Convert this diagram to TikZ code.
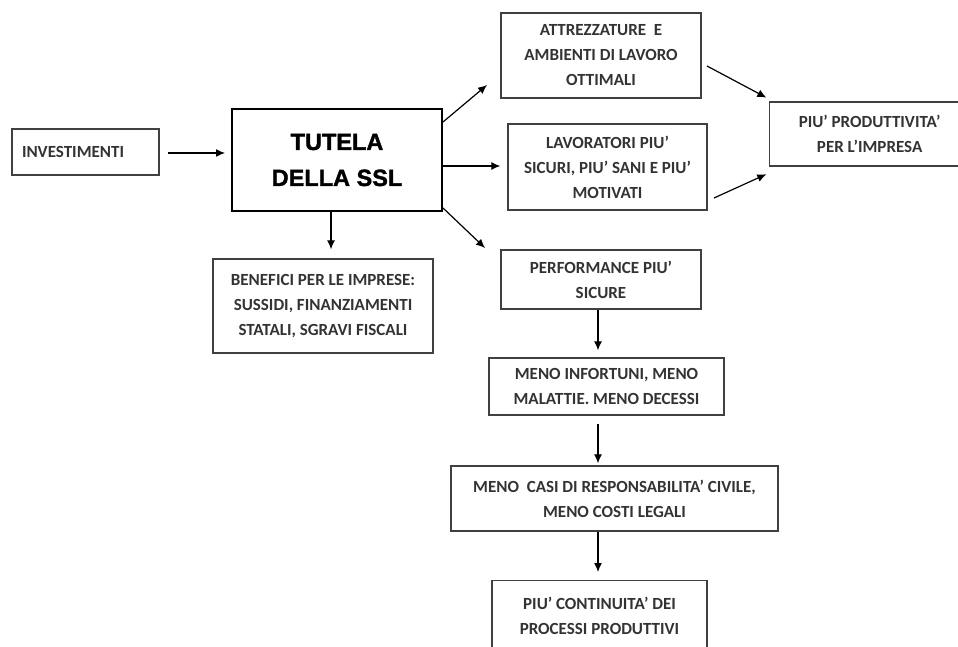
\documentclass[tikz,border=0pt]{standalone}
\usepackage{fontspec}
\setmainfont{Carlito}
\newfontfamily\headfont[BoldFeatures={FakeBold=1.5}]{Liberation Sans}
\usetikzlibrary{arrows.meta}
\begin{document}
\begin{tikzpicture}[x=1pt,y=-1pt,
    box/.style={draw=black!75,line width=1.3pt,align=center,inner sep=0pt,
      text=black!80,font=\fontsize{17}{25}\selectfont\bfseries},
    arr/.style={line width=1.2pt,-{Latex[length=9pt,width=8pt]}}]
  \useasboundingbox (0,0) rectangle (958,647);
  \node[box,minimum width=147pt,minimum height=46pt,text width=127pt,align=left] (invest) at (85.5,152) {INVESTIMENTI};
  \node[box,draw=black,line width=2pt,minimum width=210pt,minimum height=102pt,text=black,
    font=\headfont\fontsize{23.5}{36}\selectfont\bfseries] (tutela) at (337,160) {TUTELA\\DELLA SSL};
  \node[box,minimum width=220pt,minimum height=94pt] (benefici) at (323,306) {BENEFICI PER LE IMPRESE:\\SUSSIDI, FINANZIAMENTI\\STATALI, SGRAVI FISCALI};
  \node[box,minimum width=200pt,minimum height=85pt] (attrezz) at (601,55.5) {ATTREZZATURE\ \ E\\AMBIENTI DI LAVORO\\OTTIMALI};
  \node[box,minimum width=199pt,minimum height=86pt] (lavor) at (607.5,167) {LAVORATORI PIU'\\SICURI, PIU' SANI E PIU'\\MOTIVATI};
  \node[box,minimum width=200pt,minimum height=64pt,anchor=west] (produtt) at (769,134) {PIU' PRODUTTIVITA'\\PER L'IMPRESA};
  \node[box,minimum width=200pt,minimum height=59pt] (perform) at (601,279.5) {PERFORMANCE PIU'\\SICURE};
  \node[box,minimum width=235pt,minimum height=57pt] (infort) at (606.5,386.5) {MENO INFORTUNI, MENO\\MALATTIE. MENO DECESSI};
  \node[box,minimum width=327pt,minimum height=65pt] (casi) at (614.5,498.5) {MENO\ \ CASI DI RESPONSABILITA' CIVILE,\\MENO COSTI LEGALI};
  \node[box,minimum width=215pt,minimum height=70pt,anchor=north] (contin) at (599.5,580) {PIU' CONTINUITA' DEI\\PROCESSI PRODUTTIVI};
  % frecce
  \draw[arr,shorten <=8pt,shorten >=6pt] (invest.east |- 0,153) -- (tutela.west |- 0,153);
  \coordinate (p1) at (487,85);
  \coordinate (p3) at (485,248);
  \draw[arr] (tutela.east |- 0,122) -- (p1);
  \draw[arr,shorten >=7pt] (tutela.east |- 0,166) -- (lavor.west |- 0,166);
  \draw[arr] (tutela.east |- 0,208) -- (p3);
  \draw[arr,shorten >=9pt] (tutela.south -| 331,0) -- (benefici.north -| 331,0);
  \coordinate (q1) at (707,66);
  \coordinate (q2) at (714,198);
  \draw[arr,shorten >=3pt] (q1) -- (produtt.west |- 0,99);
  \draw[arr,shorten >=3pt] (q2) -- (produtt.west |- 0,173);
  \draw[arr,shorten >=7pt] (perform.south -| 598,0) -- (infort.north -| 598,0);
  \draw[arr,shorten <=8pt,shorten >=2pt] (infort.south -| 598,0) -- (casi.north -| 598,0);
  \draw[arr,shorten >=8pt] (casi.south -| 598,0) -- (contin.north -| 598,0);
\end{tikzpicture}
\end{document}
